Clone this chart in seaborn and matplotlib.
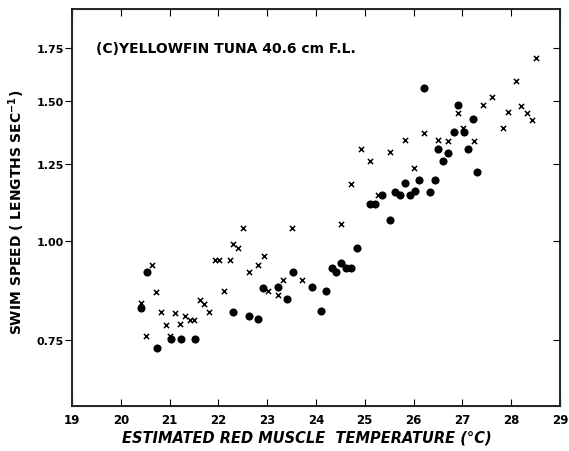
import numpy as np
import pandas as pd
import matplotlib
matplotlib.use("Agg")
import matplotlib.pyplot as plt
import seaborn as sns

# -------------------------
# Data
# -------------------------
# "x" markers
x_temp = [20.41, 20.63, 20.72, 20.52, 20.82, 20.93, 21.11, 21.21, 21.01, 21.31,
          21.42, 21.51, 21.62, 21.70, 21.80, 22.11, 21.93, 22.01, 22.23, 22.31,
          22.40, 22.51, 22.62, 22.82, 22.93, 23.02, 23.22, 23.33, 23.51, 23.72,
          24.51, 24.71, 24.92, 25.11, 25.28, 25.52, 25.83, 26.02, 26.22, 26.51,
          26.71, 26.92, 27.02, 27.23, 27.43, 27.61, 27.83, 27.93, 28.11, 28.21,
          28.32, 28.42, 28.52]
x_speed = [0.834, 0.932, 0.862, 0.758, 0.813, 0.783, 0.811, 0.786, 0.758, 0.804,
           0.795, 0.794, 0.842, 0.832, 0.814, 0.863, 0.944, 0.946, 0.945, 0.989,
           0.978, 1.036, 0.913, 0.933, 0.956, 0.864, 0.854, 0.893, 1.037, 0.892,
           1.050, 1.178, 1.304, 1.261, 1.140, 1.292, 1.339, 1.234, 1.367, 1.340,
           1.336, 1.448, 1.385, 1.336, 1.483, 1.518, 1.388, 1.451, 1.588, 1.479,
           1.448, 1.420, 1.698]

# filled dots
dot_temp = [20.41, 20.53, 20.74, 21.02, 21.23, 21.52, 22.31, 22.62, 22.82, 22.92,
            23.22, 23.41, 23.52, 23.92, 24.21, 24.11, 24.33, 24.42, 24.52, 24.62,
            24.72, 24.84, 25.10, 25.21, 25.35, 25.51, 25.62, 25.73, 25.83, 25.93,
            26.03, 26.12, 26.21, 26.33, 26.44, 26.50, 26.61, 26.71, 26.82, 26.91,
            27.03, 27.11, 27.21, 27.31]
dot_speed = [0.822, 0.913, 0.733, 0.751, 0.751, 0.751, 0.813, 0.803, 0.796, 0.872,
             0.873, 0.845, 0.913, 0.873, 0.863, 0.815, 0.924, 0.914, 0.936, 0.923,
             0.923, 0.979, 1.112, 1.112, 1.140, 1.062, 1.151, 1.140, 1.181, 1.140,
             1.154, 1.193, 1.557, 1.153, 1.193, 1.306, 1.261, 1.289, 1.370, 1.482,
             1.370, 1.304, 1.422, 1.219]

x_ticks = list(range(19, 30))
y_ticks = [0.75, 1.00, 1.25, 1.50, 1.75]
y_tick_labels = ["0.75", "1.00", "1.25", "1.50", "1.75"]

df_x = pd.DataFrame({"temp": x_temp, "speed": x_speed})
df_dot = pd.DataFrame({"temp": dot_temp, "speed": dot_speed})

# -------------------------
# Plot
# -------------------------
sns.set_style("white")
plt.rcParams["font.family"] = ["DejaVu Sans"]
plt.rcParams["text.color"] = "black"
plt.rcParams["axes.labelcolor"] = "black"
plt.rcParams["xtick.color"] = "black"
plt.rcParams["ytick.color"] = "black"

fig = plt.figure(figsize=(5.69, 4.52), dpi=100)
ax = fig.add_axes([0.1265, 0.0996, 0.8575, 0.8784])

sns.scatterplot(data=df_dot, x="temp", y="speed", ax=ax, color="black",
                marker="o", s=34, edgecolor="black", linewidth=0)
sns.scatterplot(data=df_x, x="temp", y="speed", ax=ax, color="black",
                marker="x", s=14, linewidth=1.1)

ax.set_yscale("log")
ax.set_xlim(19, 29)
ax.set_ylim(0.619, 1.958)
ax.set_xticks(x_ticks)
ax.set_yticks(y_ticks)
ax.set_yticklabels(y_tick_labels)
ax.yaxis.set_minor_locator(matplotlib.ticker.NullLocator())

for side in ["left", "bottom", "top", "right"]:
    ax.spines[side].set_visible(True)
    ax.spines[side].set_color("black")
    ax.spines[side].set_linewidth(1.2)

ax.tick_params(axis="x", direction="in", top=True, bottom=True, length=5,
               width=0.8, labelsize=8.5, pad=5)
ax.tick_params(axis="y", direction="out", left=True, length=5, width=0.8,
               labelsize=8, pad=1)
for lab in ax.get_xticklabels() + ax.get_yticklabels():
    lab.set_fontweight("bold")

# inward ticks on the right side
ax_r = ax.twinx()
ax_r.set_yscale("log")
ax_r.set_ylim(ax.get_ylim())
ax_r.set_yticks(y_ticks)
ax_r.yaxis.set_minor_locator(matplotlib.ticker.NullLocator())
ax_r.tick_params(axis="y", direction="in", right=True, length=5, width=0.8,
                 labelright=False)

ax.set_xlabel("ESTIMATED RED MUSCLE  TEMPERATURE (°C)", fontsize=10.5,
              fontweight="bold", style="italic")
ax.xaxis.set_label_coords(0.4816, -0.058)
ax.set_ylabel("SWIM SPEED ( LENGTHS SEC$^{\\mathbf{-1}}$)", fontsize=10,
              fontweight="bold")
ax.yaxis.set_label_coords(-0.092, 0.49)

ax.text(19.5, 1.75, "(C)YELLOWFIN TUNA 40.6 cm F.L.", fontsize=10,
        fontweight="bold", va="center", ha="left")

fig.savefig("out.png", dpi=100)
